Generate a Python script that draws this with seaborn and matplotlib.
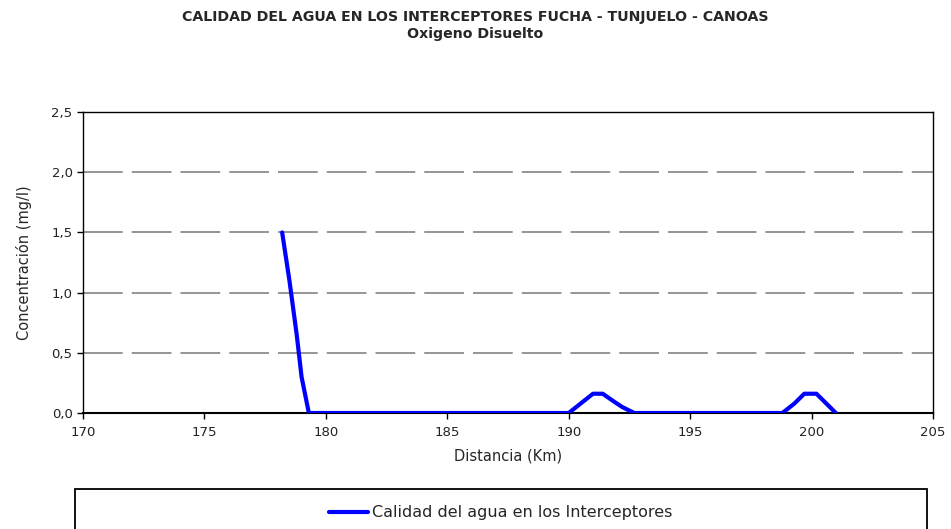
import matplotlib
matplotlib.use("Agg")
import matplotlib.pyplot as plt
import seaborn as sns
import pandas as pd
from matplotlib.lines import Line2D
from matplotlib.patches import Rectangle

distancia = [178.2, 178.5, 178.8, 179.0, 179.3, 180.0, 182.0, 184.0, 186.0, 188.0, 190.0,
             190.5, 191.0, 191.4, 191.9, 192.2, 192.7, 194.0, 196.0, 198.0, 198.8,
             199.3, 199.7, 200.2, 200.6, 201.0]
oxigeno = [1.5, 1.1, 0.65, 0.3, 0.0, 0.0, 0.0, 0.0, 0.0, 0.0, 0.0,
           0.08, 0.16, 0.16, 0.09, 0.05, 0.0, 0.0, 0.0, 0.0, 0.0,
           0.08, 0.16, 0.16, 0.08, 0.0]
x_ticks = [170, 175, 180, 185, 190, 195, 200, 205]
y_ticks = [0.0, 0.5, 1.0, 1.5, 2.0, 2.5]
serie = "Calidad del agua en los Interceptores"

sns.set_theme(style="white")
plt.rcParams["font.family"] = ["DejaVu Sans"]

df = pd.DataFrame({"Distancia": distancia, "Oxigeno": oxigeno, "Serie": serie})

W, H = 951, 529
fig = plt.figure(figsize=(W/100, H/100), dpi=100)
L, R, T, B = 83, 933, 112, 413
ax = fig.add_axes([L/W, 1 - B/H, (R-L)/W, (B-T)/H])

for yv in [0.5, 1.0, 1.5, 2.0]:
    ax.axhline(yv, color="#8c8c8c", lw=1.3, dashes=(22, 5), zorder=0)

sns.lineplot(data=df, x="Distancia", y="Oxigeno", hue="Serie", palette=["#0000ff"],
             lw=3, ax=ax, legend=False, zorder=3)

ax.set_xlim(170, 205)
ax.set_ylim(0, 2.5)
ax.set_xticks(x_ticks)
ax.set_xticklabels([str(t) for t in x_ticks])
ax.set_yticks(y_ticks)
ax.set_yticklabels([f"{t:.1f}".replace(".", ",") for t in y_ticks])
for s in ax.spines.values():
    s.set_color("black")
    s.set_linewidth(1.0)
ax.spines["bottom"].set_linewidth(1.5)
ax.tick_params(axis="both", direction="out", length=4, width=1, color="black",
               labelsize=9.5, labelcolor="#222222", bottom=True, left=True)
ax.tick_params(axis="x", pad=5)
ax.set_xlabel("Distancia (Km)", fontsize=10.5, labelpad=7)
ax.set_ylabel("Concentración (mg/l)", fontsize=10.5, labelpad=14)

fig.text(0.5, 1 - 17/H, "CALIDAD DEL AGUA EN LOS INTERCEPTORES FUCHA - TUNJUELO - CANOAS",
         ha="center", va="center", fontsize=10.2, fontweight="bold")
fig.text(0.5, 1 - 34/H, "Oxigeno Disuelto", ha="center", va="center",
         fontsize=10.2, fontweight="bold")

box = Rectangle((75/W, -0.01), (927-75)/W, (H-489)/H + 0.01, transform=fig.transFigure,
                fill=False, edgecolor="black", lw=1.3)
fig.add_artist(box)
fig.add_artist(Line2D([329/W, 368/W], [1-512/H, 1-512/H], transform=fig.transFigure,
                      color="#0000ff", lw=3))
fig.text(372/W, 1-512/H, serie, ha="left", va="center", fontsize=11.5)

fig.savefig("out.png", dpi=100)
